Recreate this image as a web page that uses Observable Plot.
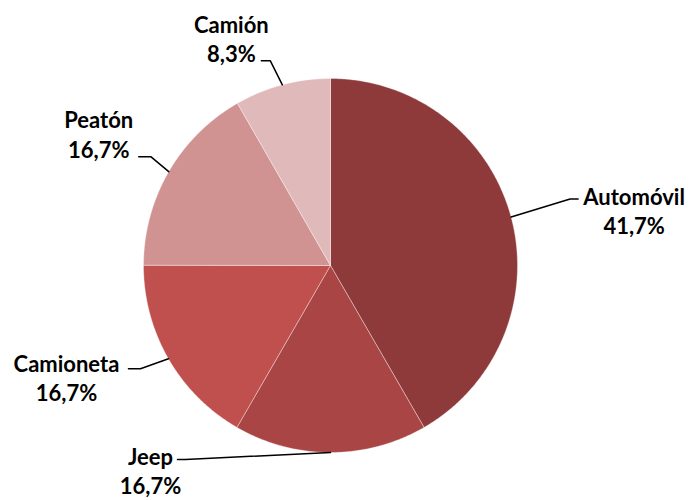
<!DOCTYPE html>
<html>
<head>
<meta charset="utf-8">
<script src="https://cdn.jsdelivr.net/npm/d3@7"></script>
<script src="https://cdn.jsdelivr.net/npm/@observablehq/plot@0.6"></script>
<style>
  html, body { margin: 0; padding: 0; background: #fff; }
  #chart { width: 694px; height: 500px; }
</style>
</head>
<body>
<div id="chart"></div>
<script>
// ---- data ----
const categories = ["Automóvil", "Jeep", "Camioneta", "Peatón", "Camión"];
const percents = [41.7, 16.7, 16.7, 16.7, 8.3];
const colors = ["#8E3A3A", "#A94544", "#C0504D", "#D19392", "#E0BABB"];

// ---- layout (pixels) ----
const W = 694, H = 500;
const cx = 330, cy = 265, R = 187;
// leader elbow / end offsets and label-centre offsets relative to the rim point
const layout = {
  "Automóvil": {elbow: [59, -18], end: [67, -18], label: [123, -22]},
  "Jeep":      {elbow: [-145, 7], end: [-153, 7], label: [-180, 3]},
  "Camioneta": {elbow: [-28, 10], end: [-40, 10], label: [-102, 3]},
  "Peatón":    {elbow: [-18, -15], end: [-30, -15], label: [-70, -53]},
  "Camión":    {elbow: [-12, -24], end: [-21, -24], label: [-51, -62]}
};

const pie = d3.pie().sort(null).value(d => d.value).startAngle(0).endAngle(2 * Math.PI);
const rows = categories.map((name, i) => ({name, value: percents[i]}));
const arcs = pie(rows);

const pt = (a, r) => [cx + r * Math.sin(a), cy - r * Math.cos(a)];

// slice outlines
const slicePts = [];
for (const a of arcs) {
  const name = a.data.name;
  slicePts.push({name, x: cx, y: cy});
  const n = Math.max(2, Math.ceil((a.endAngle - a.startAngle) / (Math.PI / 360)));
  for (let k = 0; k <= n; k++) {
    const t = a.startAngle + (a.endAngle - a.startAngle) * k / n;
    const [x, y] = pt(t, R);
    slicePts.push({name, x, y});
  }
  slicePts.push({name, x: cx, y: cy});
}

// leaders and labels
const leaderPts = [];
const labels = [];
for (const a of arcs) {
  const name = a.data.name;
  const mid = (a.startAngle + a.endAngle) / 2;
  const [rx, ry] = pt(mid, R);
  const L = layout[name];
  leaderPts.push({name, x: rx, y: ry});
  leaderPts.push({name, x: rx + L.elbow[0], y: ry + L.elbow[1]});
  leaderPts.push({name, x: rx + L.end[0], y: ry + L.end[1]});
  labels.push({
    name,
    x: rx + L.label[0],
    y: ry + L.label[1] + 15,
    text: `${name}\n${a.data.value.toFixed(1).replace(".", ",")}%`
  });
}

const chart = Plot.plot({
  width: W,
  height: H,
  margin: 0,
  x: {domain: [0, W], range: [0, W], axis: null},
  y: {domain: [0, H], range: [0, H], axis: null},
  color: {domain: categories, range: colors},
  style: {background: "#fff"},
  marks: [
    Plot.line(slicePts, {x: "x", y: "y", z: "name", fill: "name", stroke: "#ffffff", strokeWidth: 0.6, strokeOpacity: 0.6, curve: "linear"}),
    Plot.line(leaderPts, {x: "x", y: "y", z: "name", stroke: "#000", strokeWidth: 1.5, curve: "linear"}),
    Plot.text(labels, {
      x: "x", y: "y", text: "text",
      textAnchor: "middle", lineAnchor: "middle", lineHeight: 1.33,
      fontSize: 22, fontWeight: "bold", fontFamily: "Lato, 'Open Sans', sans-serif",
      fill: "#000"
    })
  ]
});
document.getElementById("chart").appendChild(chart);
</script>
</body>
</html>
